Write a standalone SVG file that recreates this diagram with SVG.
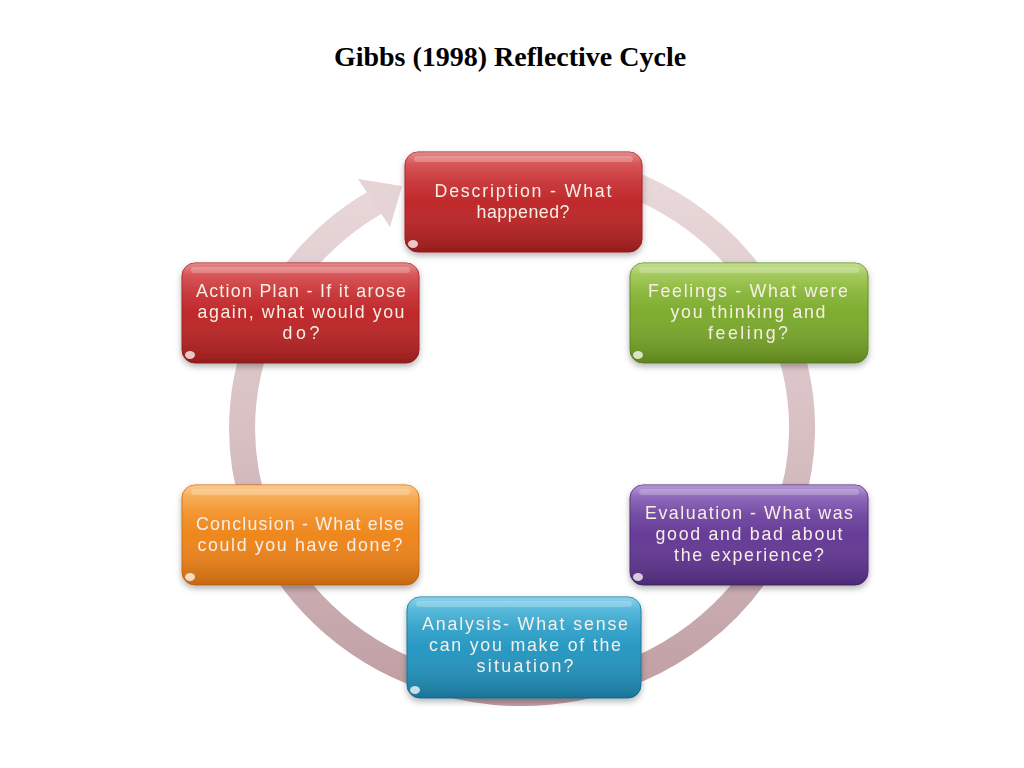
<svg xmlns="http://www.w3.org/2000/svg" width="1024" height="768" viewBox="0 0 1024 768">
  <defs>
    <linearGradient id="ringGrad" gradientUnits="userSpaceOnUse" x1="0" y1="160" x2="0" y2="700">
      <stop offset="0" stop-color="#eadadb"/>
      <stop offset="0.5" stop-color="#d8c0c3"/>
      <stop offset="1" stop-color="#bf9ea3"/>
    </linearGradient>
    <linearGradient id="gloss" x1="0" y1="0" x2="0" y2="1">
      <stop offset="0" stop-color="#ffffff" stop-opacity="0.35"/>
      <stop offset="0.12" stop-color="#ffffff" stop-opacity="0.12"/>
      <stop offset="0.5" stop-color="#ffffff" stop-opacity="0"/>
      <stop offset="1" stop-color="#000000" stop-opacity="0.15"/>
    </linearGradient>
    <linearGradient id="red" x1="0" y1="0" x2="0" y2="1">
      <stop offset="0" stop-color="#d94a4c"/>
      <stop offset="0.3" stop-color="#c62e31"/>
      <stop offset="1" stop-color="#b0201f"/>
    </linearGradient>
    <linearGradient id="green" x1="0" y1="0" x2="0" y2="1">
      <stop offset="0" stop-color="#a3cc52"/>
      <stop offset="0.3" stop-color="#84b334"/>
      <stop offset="1" stop-color="#6f9c24"/>
    </linearGradient>
    <linearGradient id="purple" x1="0" y1="0" x2="0" y2="1">
      <stop offset="0" stop-color="#8a62bd"/>
      <stop offset="0.3" stop-color="#6c419e"/>
      <stop offset="1" stop-color="#5a318a"/>
    </linearGradient>
    <linearGradient id="orange" x1="0" y1="0" x2="0" y2="1">
      <stop offset="0" stop-color="#f9ad50"/>
      <stop offset="0.3" stop-color="#f28d22"/>
      <stop offset="1" stop-color="#e67a14"/>
    </linearGradient>
    <linearGradient id="blue" x1="0" y1="0" x2="0" y2="1">
      <stop offset="0" stop-color="#4fbbe0"/>
      <stop offset="0.3" stop-color="#2da0c9"/>
      <stop offset="1" stop-color="#1f88b2"/>
    </linearGradient>
    <filter id="shadow" x="-10%" y="-10%" width="120%" height="130%">
      <feDropShadow dx="0" dy="3" stdDeviation="3" flood-color="#000000" flood-opacity="0.3"/>
    </filter>
  </defs>
  <style>
    .title { font-family: "Liberation Serif", "Times New Roman", serif; font-weight: bold; font-size: 28px; fill: #000000; }
    .lbl { font-family: "Liberation Sans", Arial, sans-serif; font-size: 17.8px; fill: #f7efe6; text-anchor: middle; }
    .shine { fill: url(#gloss); }
    .band { fill: #ffffff; fill-opacity: 0.22; }
    .dot { fill: #ffffff; fill-opacity: 0.75; }
    .ring { fill: none; stroke: url(#ringGrad); stroke-width: 26; }
  </style>
  <rect width="1024" height="768" fill="#ffffff"/>
  <text class="title" x="510" y="66" text-anchor="middle">Gibbs (1998) Reflective Cycle</text>

  <g id="connectors">
    <path class="ring" d="M 570.6 167 A 280 265 0 1 1 375 202.5"/>
    <polygon points="358,179 402,186 390,227" fill="#e6d3d5"/>
  </g>

  <g id="node-description" filter="url(#shadow)">
    <rect x="405" y="152" width="237" height="100" rx="13" fill="url(#red)" stroke="#9e1c1e" stroke-width="1"/>
    <rect x="405" y="152" width="237" height="100" rx="13" class="shine"/>
    <rect x="414" y="156" width="219" height="6" rx="3" class="band"/>
    <ellipse cx="413" cy="244" rx="5" ry="4" class="dot"/>
    <text class="lbl" x="523" y="197" textLength="177" lengthAdjust="spacing">Description - What</text>
    <text class="lbl" x="523" y="218" textLength="93" lengthAdjust="spacing">happened?</text>
  </g>

  <g id="node-feelings" filter="url(#shadow)">
    <rect x="630" y="263" width="238" height="100" rx="13" fill="url(#green)" stroke="#5f8a1c" stroke-width="1"/>
    <rect x="630" y="263" width="238" height="100" rx="13" class="shine"/>
    <rect x="639" y="267" width="220" height="6" rx="3" class="band"/>
    <ellipse cx="638" cy="355" rx="5" ry="4" class="dot"/>
    <text class="lbl" x="748" y="297" textLength="200" lengthAdjust="spacing">Feelings - What were</text>
    <text class="lbl" x="748" y="318" textLength="155" lengthAdjust="spacing">you thinking and</text>
    <text class="lbl" x="748" y="339" textLength="80" lengthAdjust="spacing">feeling?</text>
  </g>

  <g id="node-evaluation" filter="url(#shadow)">
    <rect x="630" y="485" width="238" height="100" rx="13" fill="url(#purple)" stroke="#4b2675" stroke-width="1"/>
    <rect x="630" y="485" width="238" height="100" rx="13" class="shine"/>
    <rect x="639" y="489" width="220" height="6" rx="3" class="band"/>
    <ellipse cx="638" cy="577" rx="5" ry="4" class="dot"/>
    <text class="lbl" x="749" y="519" textLength="208" lengthAdjust="spacing">Evaluation - What was</text>
    <text class="lbl" x="749" y="540" textLength="187" lengthAdjust="spacing">good and bad about</text>
    <text class="lbl" x="749" y="561" textLength="150" lengthAdjust="spacing">the experience?</text>
  </g>

  <g id="node-analysis" filter="url(#shadow)">
    <rect x="407" y="597" width="234" height="101" rx="13" fill="url(#blue)" stroke="#1a7399" stroke-width="1"/>
    <rect x="407" y="597" width="234" height="101" rx="13" class="shine"/>
    <rect x="416" y="601" width="216" height="6" rx="3" class="band"/>
    <ellipse cx="415" cy="690" rx="5" ry="4" class="dot"/>
    <text class="lbl" x="525" y="630" textLength="206" lengthAdjust="spacing">Analysis- What sense</text>
    <text class="lbl" x="525" y="651" textLength="192" lengthAdjust="spacing">can you make of the</text>
    <text class="lbl" x="525" y="672" textLength="97" lengthAdjust="spacing">situation?</text>
  </g>

  <g id="node-conclusion" filter="url(#shadow)">
    <rect x="182" y="485" width="237" height="100" rx="13" fill="url(#orange)" stroke="#d06a10" stroke-width="1"/>
    <rect x="182" y="485" width="237" height="100" rx="13" class="shine"/>
    <rect x="191" y="489" width="219" height="6" rx="3" class="band"/>
    <ellipse cx="190" cy="577" rx="5" ry="4" class="dot"/>
    <text class="lbl" x="300" y="530" textLength="208" lengthAdjust="spacing">Conclusion - What else</text>
    <text class="lbl" x="300" y="551" textLength="205" lengthAdjust="spacing">could you have done?</text>
  </g>

  <g id="node-action-plan" filter="url(#shadow)">
    <rect x="182" y="263" width="237" height="100" rx="13" fill="url(#red)" stroke="#9e1c1e" stroke-width="1"/>
    <rect x="182" y="263" width="237" height="100" rx="13" class="shine"/>
    <rect x="191" y="267" width="219" height="6" rx="3" class="band"/>
    <ellipse cx="190" cy="355" rx="5" ry="4" class="dot"/>
    <text class="lbl" x="301" y="297" textLength="210" lengthAdjust="spacing">Action Plan - If it arose</text>
    <text class="lbl" x="301" y="318" textLength="207" lengthAdjust="spacing">again, what would you</text>
    <text class="lbl" x="301" y="339" textLength="37" lengthAdjust="spacing">do?</text>
  </g>
</svg>
